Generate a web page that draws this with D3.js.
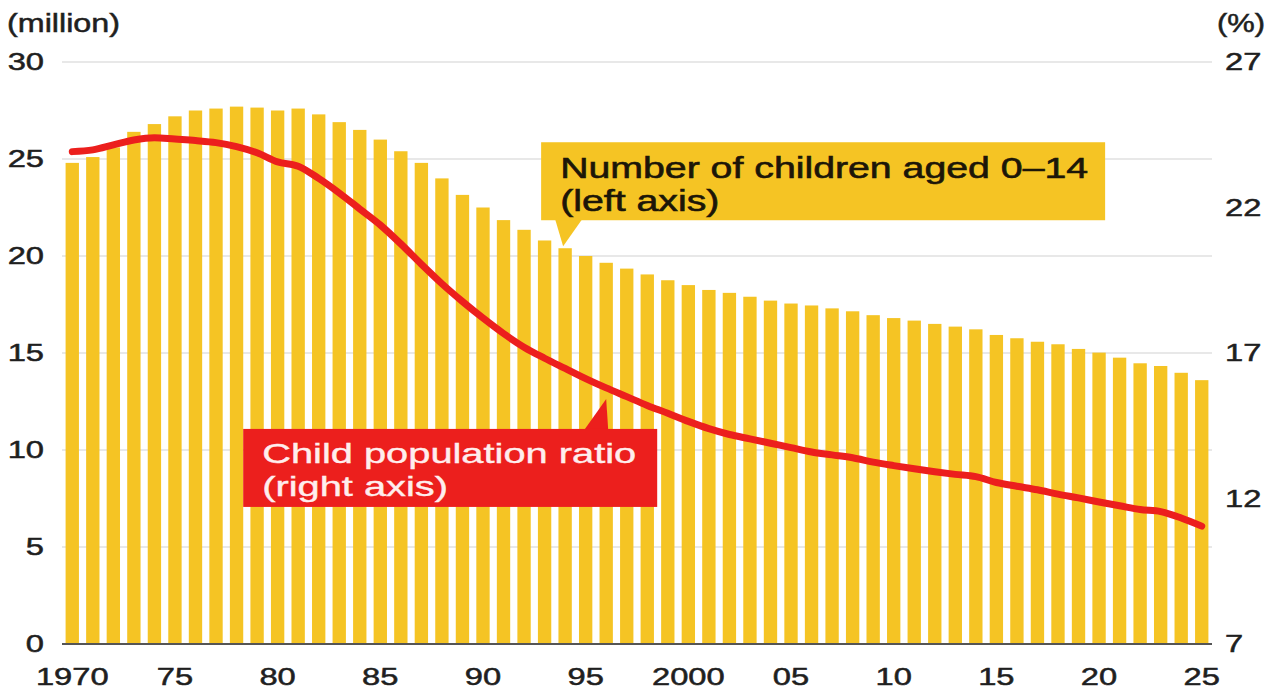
<!DOCTYPE html>
<html>
<head>
<meta charset="utf-8">
<script src="https://cdn.jsdelivr.net/npm/d3@7"></script>
<style>
  html, body { margin: 0; padding: 0; background: #ffffff; }
  svg { display: block; }
  text { font-family: "Liberation Sans", Arial, Helvetica, sans-serif; }
</style>
</head>
<body>
<svg id="chart" width="1277" height="691"></svg>
<script>
// ---- data ----
const years = [1970,1971,1972,1973,1974,1975,1976,1977,1978,1979,
               1980,1981,1982,1983,1984,1985,1986,1987,1988,1989,
               1990,1991,1992,1993,1994,1995,1996,1997,1998,1999,
               2000,2001,2002,2003,2004,2005,2006,2007,2008,2009,
               2010,2011,2012,2013,2014,2015,2016,2017,2018,2019,
               2020,2021,2022,2023,2024,2025];
// Number of children aged 0-14 (million, left axis)
const children = [24.8,25.1,25.6,26.4,26.8,27.2,27.5,27.6,27.7,27.65,
                  27.5,27.6,27.3,26.9,26.5,26.0,25.4,24.8,24.0,23.15,
                  22.5,21.85,21.35,20.8,20.4,20.0,19.65,19.35,19.05,18.75,
                  18.5,18.25,18.1,17.9,17.7,17.55,17.45,17.3,17.15,16.95,
                  16.8,16.67,16.5,16.36,16.22,15.93,15.76,15.58,15.45,15.21,
                  15.02,14.76,14.47,14.33,13.98,13.6];
// Child population ratio (%, right axis)
const ratio = [23.92,23.98,24.15,24.32,24.4,24.35,24.3,24.23,24.09,23.88,
               23.57,23.42,23.0,22.5,21.95,21.4,20.75,20.05,19.38,18.77,
               18.2,17.67,17.2,16.82,16.47,16.12,15.8,15.5,15.2,14.93,
               14.65,14.4,14.2,14.05,13.9,13.75,13.6,13.5,13.4,13.25,
               13.13,13.02,12.92,12.83,12.75,12.55,12.42,12.3,12.15,12.02,
               11.88,11.75,11.62,11.55,11.33,11.05];
const leftTicks = [0,5,10,15,20,25,30];
const rightTicks = [7,12,17,22,27];
const xTickYears = [1970,1975,1980,1985,1990,1995,2000,2005,2010,2015,2020,2025];
const xTickLabels = ["1970","75","80","85","90","95","2000","05","10","15","20","25"];
const leftUnit = "(million)";
const rightUnit = "(%)";
const barLabel = ["Number of children aged 0\u201314", "(left axis)"];
const lineLabel = ["Child population ratio", "(right axis)"];
const barLabelYear = 1994;
const lineLabelYear = 1996;

// ---- layout ----
const svg = d3.select("#chart");
const plot = { left: 62, right: 1212, top: 62, bottom: 644 };
const x = d3.scaleBand().domain(years).range([plot.left, plot.right]).paddingInner(0.35).paddingOuter(0.175);
const yL = d3.scaleLinear().domain([0, 30]).range([plot.bottom, plot.top]);
const yR = d3.scaleLinear().domain([7, 27]).range([plot.bottom, plot.top]);
const cx = d => x(d) + x.bandwidth() / 2;

const BAR = "#f5c424", RED = "#ec1f1d", INK = "#1f1f1f";
const AX_FS = 23, AX_K = 1.42;

function stretch(sel, k) {
  sel.each(function () {
    const w = this.getComputedTextLength();
    d3.select(this).attr("textLength", w * k).attr("lengthAdjust", "spacingAndGlyphs");
  });
}
function fitTo(sel, width) {
  sel.each(function () {
    d3.select(this).attr("textLength", width).attr("lengthAdjust", "spacingAndGlyphs");
  });
}

// gridlines
svg.append("g").selectAll("line").data(leftTicks.filter(t => t > 0)).join("line")
  .attr("x1", plot.left).attr("x2", plot.right)
  .attr("y1", d => yL(d)).attr("y2", d => yL(d))
  .attr("stroke", "#d2d2d2").attr("stroke-width", 1.2);

// bars
svg.append("g").selectAll("rect").data(years).join("rect")
  .attr("x", d => x(d)).attr("width", x.bandwidth())
  .attr("y", (d, i) => yL(children[i]))
  .attr("height", (d, i) => yL(0) - yL(children[i]))
  .attr("fill", BAR);

// baseline
svg.append("line")
  .attr("x1", plot.left).attr("x2", plot.right)
  .attr("y1", yL(0)).attr("y2", yL(0))
  .attr("stroke", "#555").attr("stroke-width", 2.2);

// ratio line
const line = d3.line().x((d, i) => cx(years[i])).y(d => yR(d)).curve(d3.curveMonotoneX);
svg.append("path").datum(ratio)
  .attr("d", line).attr("fill", "none")
  .attr("stroke", RED).attr("stroke-width", 7)
  .attr("stroke-linecap", "round").attr("stroke-linejoin", "round");

// left axis labels
const lt = svg.append("g").selectAll("text").data(leftTicks).join("text")
  .attr("x", 44).attr("y", d => yL(d) + AX_FS * 0.36)
  .attr("text-anchor", "end").attr("font-size", AX_FS)
  .attr("fill", INK).attr("stroke", INK).attr("stroke-width", 0.5)
  .text(d => d);
stretch(lt, AX_K);

// right axis labels
const rt = svg.append("g").selectAll("text").data(rightTicks).join("text")
  .attr("x", 1225).attr("y", d => yR(d) + AX_FS * 0.36)
  .attr("text-anchor", "start").attr("font-size", AX_FS)
  .attr("fill", INK).attr("stroke", INK).attr("stroke-width", 0.5)
  .text(d => d);
stretch(rt, AX_K);

// x axis labels
const xt = svg.append("g").selectAll("text").data(xTickYears).join("text")
  .attr("x", d => cx(d)).attr("y", 685)
  .attr("text-anchor", "middle").attr("font-size", AX_FS)
  .attr("fill", INK).attr("stroke", INK).attr("stroke-width", 0.5)
  .text((d, i) => xTickLabels[i]);
stretch(xt, AX_K);

// unit labels
const ul = svg.append("text").attr("x", 7).attr("y", 32).attr("font-size", 25)
  .attr("fill", INK).attr("stroke", INK).attr("stroke-width", 0.5).text(leftUnit);
fitTo(ul, 113);
const ur = svg.append("text").attr("x", 1217).attr("y", 32).attr("font-size", 25)
  .attr("fill", INK).attr("stroke", INK).attr("stroke-width", 0.5).text(rightUnit);
fitTo(ur, 48);

// annotation: bars (yellow callout)
{
  const i = years.indexOf(barLabelYear);
  const tx = cx(barLabelYear), ty = yL(children[i]) - 2;
  const bx = tx - 24, by = ty - 104, bw = 564, bh = 78;
  const g = svg.append("g");
  g.append("path")
    .attr("d", `M${tx - 10},${by + bh - 1} L${tx + 17},${by + bh - 1} L${tx - 2},${ty} Z`)
    .attr("fill", BAR);
  g.append("rect").attr("x", bx).attr("y", by).attr("width", bw).attr("height", bh).attr("fill", BAR);
  const t1 = g.append("text").attr("x", bx + 19).attr("y", by + 36).attr("font-size", 29)
    .attr("fill", "#1c1608").attr("stroke", "#1c1608").attr("stroke-width", 0.6).text(barLabel[0]);
  const w1 = t1.node().getComputedTextLength();
  const k = 528 / w1;
  t1.attr("textLength", 528).attr("lengthAdjust", "spacingAndGlyphs");
  const t2 = g.append("text").attr("x", bx + 19).attr("y", by + 69).attr("font-size", 29)
    .attr("fill", "#1c1608").attr("stroke", "#1c1608").attr("stroke-width", 0.6).text(barLabel[1]);
  stretch(t2, k);
}

// annotation: line (red callout)
{
  const i = years.indexOf(lineLabelYear);
  const tx = cx(lineLabelYear), ty = yR(ratio[i]) + 11;
  const bx = tx - 363, by = ty + 30, bw = 414, bh = 78;
  const g = svg.append("g");
  g.append("path")
    .attr("d", `M${tx - 22},${by + 1} L${tx + 2},${by + 1} L${tx},${ty} Z`)
    .attr("fill", RED);
  g.append("rect").attr("x", bx).attr("y", by).attr("width", bw).attr("height", bh).attr("fill", RED);
  const t1 = g.append("text").attr("x", bx + 19).attr("y", by + 34).attr("font-size", 28)
    .attr("fill", "#ffeeee").attr("stroke", "#ffeeee").attr("stroke-width", 0.4).text(lineLabel[0]);
  const w1 = t1.node().getComputedTextLength();
  const k = 374 / w1;
  t1.attr("textLength", 374).attr("lengthAdjust", "spacingAndGlyphs");
  const t2 = g.append("text").attr("x", bx + 19).attr("y", by + 67).attr("font-size", 28)
    .attr("fill", "#ffeeee").attr("stroke", "#ffeeee").attr("stroke-width", 0.4).text(lineLabel[1]);
  stretch(t2, k);
}
</script>
</body>
</html>
